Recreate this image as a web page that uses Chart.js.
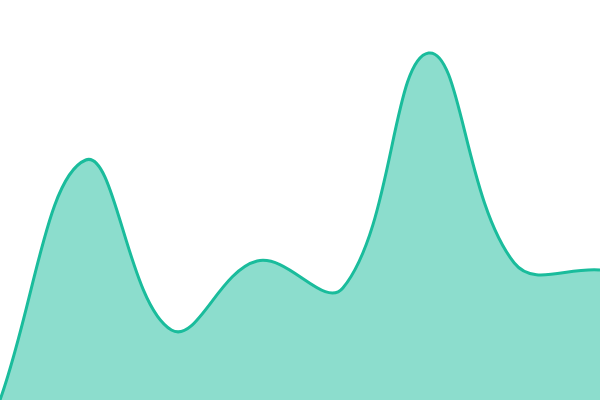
<!DOCTYPE html>
<html>
<head>
<meta charset="utf-8">
<script src="https://cdn.jsdelivr.net/npm/chart.js@4"></script>
<style>
  html, body { margin: 0; padding: 0; background: #fff; }
  #wrap { width: 600px; height: 400px; }
</style>
</head>
<body>
<div id="wrap"><canvas id="areaChart"></canvas></div>
<script>
// values (no axes shown)
const labels = ['1', '2', '3', '4', '5', '6', '7', '8'];
const values = [0, 240, 70, 139, 112, 347, 137, 130];

const ctx = document.getElementById('areaChart').getContext('2d');

new Chart(ctx, {
    type: 'line',
    data: {
        labels: labels,
        datasets: [{
            data: values,
            borderColor: '#1abc9c',
            backgroundColor: 'rgba(26, 188, 156, 0.5)',
            borderWidth: 3,
            fill: true,
            tension: 0.4,
            pointRadius: 0
        }]
    },
    options: {
        responsive: true,
        maintainAspectRatio: false,
        animation: false,
        layout: { padding: 0 },
        plugins: {
            legend: { display: false },
            tooltip: { enabled: false }
        },
        scales: {
            x: { display: false },
            y: { display: false, min: 0, max: 400 }
        }
    }
});
</script>
</body>
</html>
